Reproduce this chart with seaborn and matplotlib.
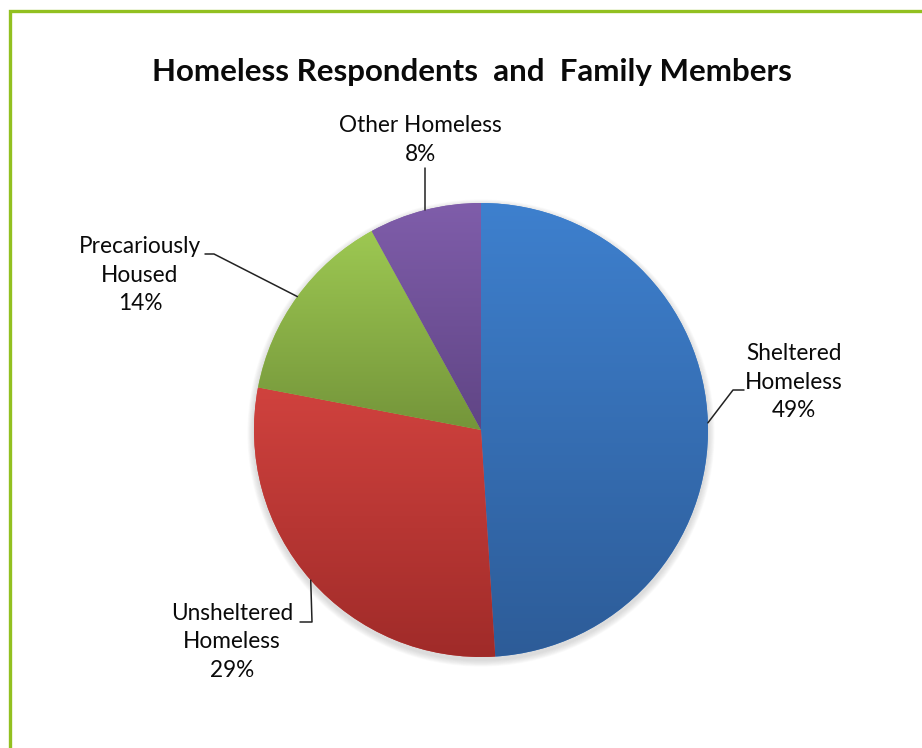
import numpy as np
import matplotlib
matplotlib.use("Agg")
import matplotlib.pyplot as plt
from matplotlib.colors import LinearSegmentedColormap
from matplotlib.patches import Circle
import seaborn as sns

# Shares of homeless respondents and family members, drawn clockwise from 12 o'clock
categories = ["Sheltered\nHomeless", "Unsheltered\nHomeless", "Precariously\nHoused", "Other Homeless"]
shares = [49, 29, 14, 8]

# Light (top) and dark (bottom) ends of each slice's vertical gradient
top_colors = ["#3E80CE", "#D0423E", "#9DC852", "#7F5DAA"]
bottom_colors = ["#2D5C98", "#A02B29", "#74953A", "#604585"]

sns.set_theme(style="white")
plt.rcParams["font.family"] = ["Lato", "DejaVu Sans"]

W, H = 922, 748
fig = plt.figure(figsize=(W / 100, H / 100), dpi=100)
ax = fig.add_axes([0, 0, 1, 1])

cx, cy, r = 481, 318, 227

# Soft drop shadow under the pie
for k in range(8):
    ax.add_patch(Circle((cx, cy - 3), r + 1 + k * 0.8, color="#808080",
                        alpha=0.035, lw=0, zorder=0))

wedges, _ = ax.pie(shares, colors=top_colors, startangle=90, counterclock=False,
                   center=(cx, cy), radius=r, wedgeprops=dict(linewidth=0))

# Vertical gradient fill inside each slice
grad = np.linspace(0, 1, 256).reshape(-1, 1)
for w, c0, c1 in zip(wedges, top_colors, bottom_colors):
    w.set_zorder(1)
    ext = w.get_path().get_extents()
    cmap = LinearSegmentedColormap.from_list("g", [c0, c1])
    im = ax.imshow(grad, cmap=cmap, aspect="auto", origin="upper",
                   extent=(ext.x0, ext.x1, ext.y0, ext.y1), zorder=2,
                   interpolation="bilinear")
    im.set_clip_path(w)

ax.set_xlim(0, W)
ax.set_ylim(0, H)
ax.set_aspect("equal")
ax.axis("off")


def edge_point(w):
    mid = np.deg2rad((w.theta1 + w.theta2) / 2)
    return cx + r * np.cos(mid), cy + r * np.sin(mid)


label_font = dict(fontsize=16.3, color="#0A0A0A", ha="center", va="center",
                  linespacing=1.45, zorder=5)
line_style = dict(color="#222222", lw=1.1, zorder=4)

# Sheltered Homeless (right)
ex, ey = edge_point(wedges[0])
ax.text(794, 748 - 382, f"{categories[0]}\n{shares[0]}%", **label_font)
ax.plot([ex, 733, 744], [ey, 748 - 390, 748 - 390], **line_style)

# Unsheltered Homeless (lower left)
ex, ey = edge_point(wedges[1])
ax.text(232, 748 - 642, f"{categories[1]}\n{shares[1]}%", **label_font)
ax.plot([300, 312, ex], [748 - 622, 748 - 622, ey], **line_style)

# Precariously Housed (upper left)
ex, ey = edge_point(wedges[2])
ax.text(140, 748 - 275, f"{categories[2]}\n{shares[2]}%", **label_font)
ax.plot([205, 214, ex], [748 - 254, 748 - 254, ey], **line_style)

# Other Homeless (top)
ex, ey = edge_point(wedges[3])
ax.text(420, 748 - 140, f"{categories[3]}\n{shares[3]}%", **label_font)
ax.plot([ex, ex], [748 - 168, ey], **line_style)

# Title
ax.text(472, 748 - 72, "Homeless Respondents  and  Family Members", fontsize=22.5,
        fontweight="bold", color="#0A0A0A", ha="center", va="center", zorder=5)

# Green chart frame (runs off the right and bottom edges)
ax.plot([9.5, 9.5, W + 10], [-10, 748 - 11, 748 - 11], color="#92C020",
        lw=2.4, solid_joinstyle="miter", zorder=6, clip_on=False)

fig.savefig("out.png", dpi=100)
